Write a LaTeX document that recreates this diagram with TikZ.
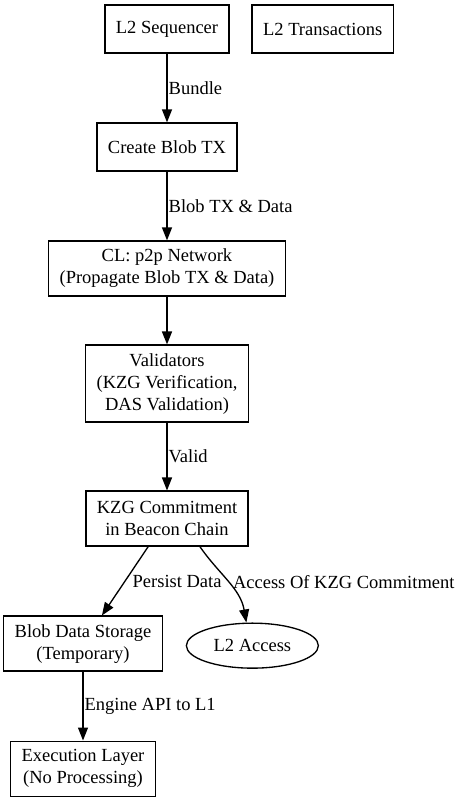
\documentclass[tikz,border=0pt]{standalone}
\usepackage{fontspec}
\setmainfont{Liberation Serif}
\usetikzlibrary{arrows.meta,positioning,shapes.geometric}
\newcommand{\gvfont}{\fontsize{18.5}{22}\selectfont}
\tikzset{
  box/.style={draw, line width=1.33pt, align=center, font=\gvfont, inner xsep=11pt, inner ysep=2pt, minimum height=48pt},
  tallbox/.style={box, minimum height=55pt},
  oval/.style={ellipse, draw, line width=1.33pt, font=\gvfont, minimum width=132pt, minimum height=45pt, inner sep=0pt},
  flow/.style={-{Triangle[length=13pt, width=10pt]}, line width=1.33pt},
  lbl/.style={font=\gvfont, inner xsep=1pt},
}

\begin{document}
\begin{tikzpicture}[node distance=68.7pt and 21.7pt]
    \useasboundingbox (0,0) rectangle (459pt,-801pt);
    \node[box] (seq) at (167pt,-29pt) {L2 Sequencer};
    \node[box, right=of seq] (txs) {L2 Transactions};
    \node[box, below=of seq] (blobtx) {Create Blob TX};
    \node[tallbox, below=of blobtx] (p2p) {CL: p2p Network\\(Propagate Blob TX \& Data)};
    \node[box, minimum height=77pt, below=47.7pt of p2p] (validators) {Validators\\(KZG Verification,\\DAS Validation)};
    \node[tallbox, below=67.7pt of validators] (kzg) {KZG Commitment\\in Beacon Chain};
    \node[tallbox, below=68.7pt of kzg, xshift=-84pt] (storage) {Blob Data Storage\\(Temporary)};
    \node[oval, right=22.7pt of storage, yshift=-2pt] (access) {L2 Access};
    \node[tallbox, below=of storage] (exec) {Execution Layer\\(No Processing)};

    \draw[flow] (seq) -- node[lbl, right] {Bundle} (blobtx);
    \draw[flow] (blobtx) -- node[lbl, right] {Blob TX \& Data} (p2p);
    \draw[flow] (p2p) -- (validators);
    \draw[flow] (validators) -- node[lbl, right] {Valid} (kzg);
    \draw[flow] (kzg) -- node[lbl, right, inner xsep=7pt] {Persist Data} (storage);
    \draw[flow] ([xshift=33pt]kzg.south) to[out=-55, in=100] node[lbl, right, pos=0.5, inner xsep=4pt] {Access Of KZG Commitment} ([xshift=-6pt]access.north);
    \draw[flow] (storage) -- node[lbl, right] {Engine API to L1} (exec);
\end{tikzpicture}
\end{document}
